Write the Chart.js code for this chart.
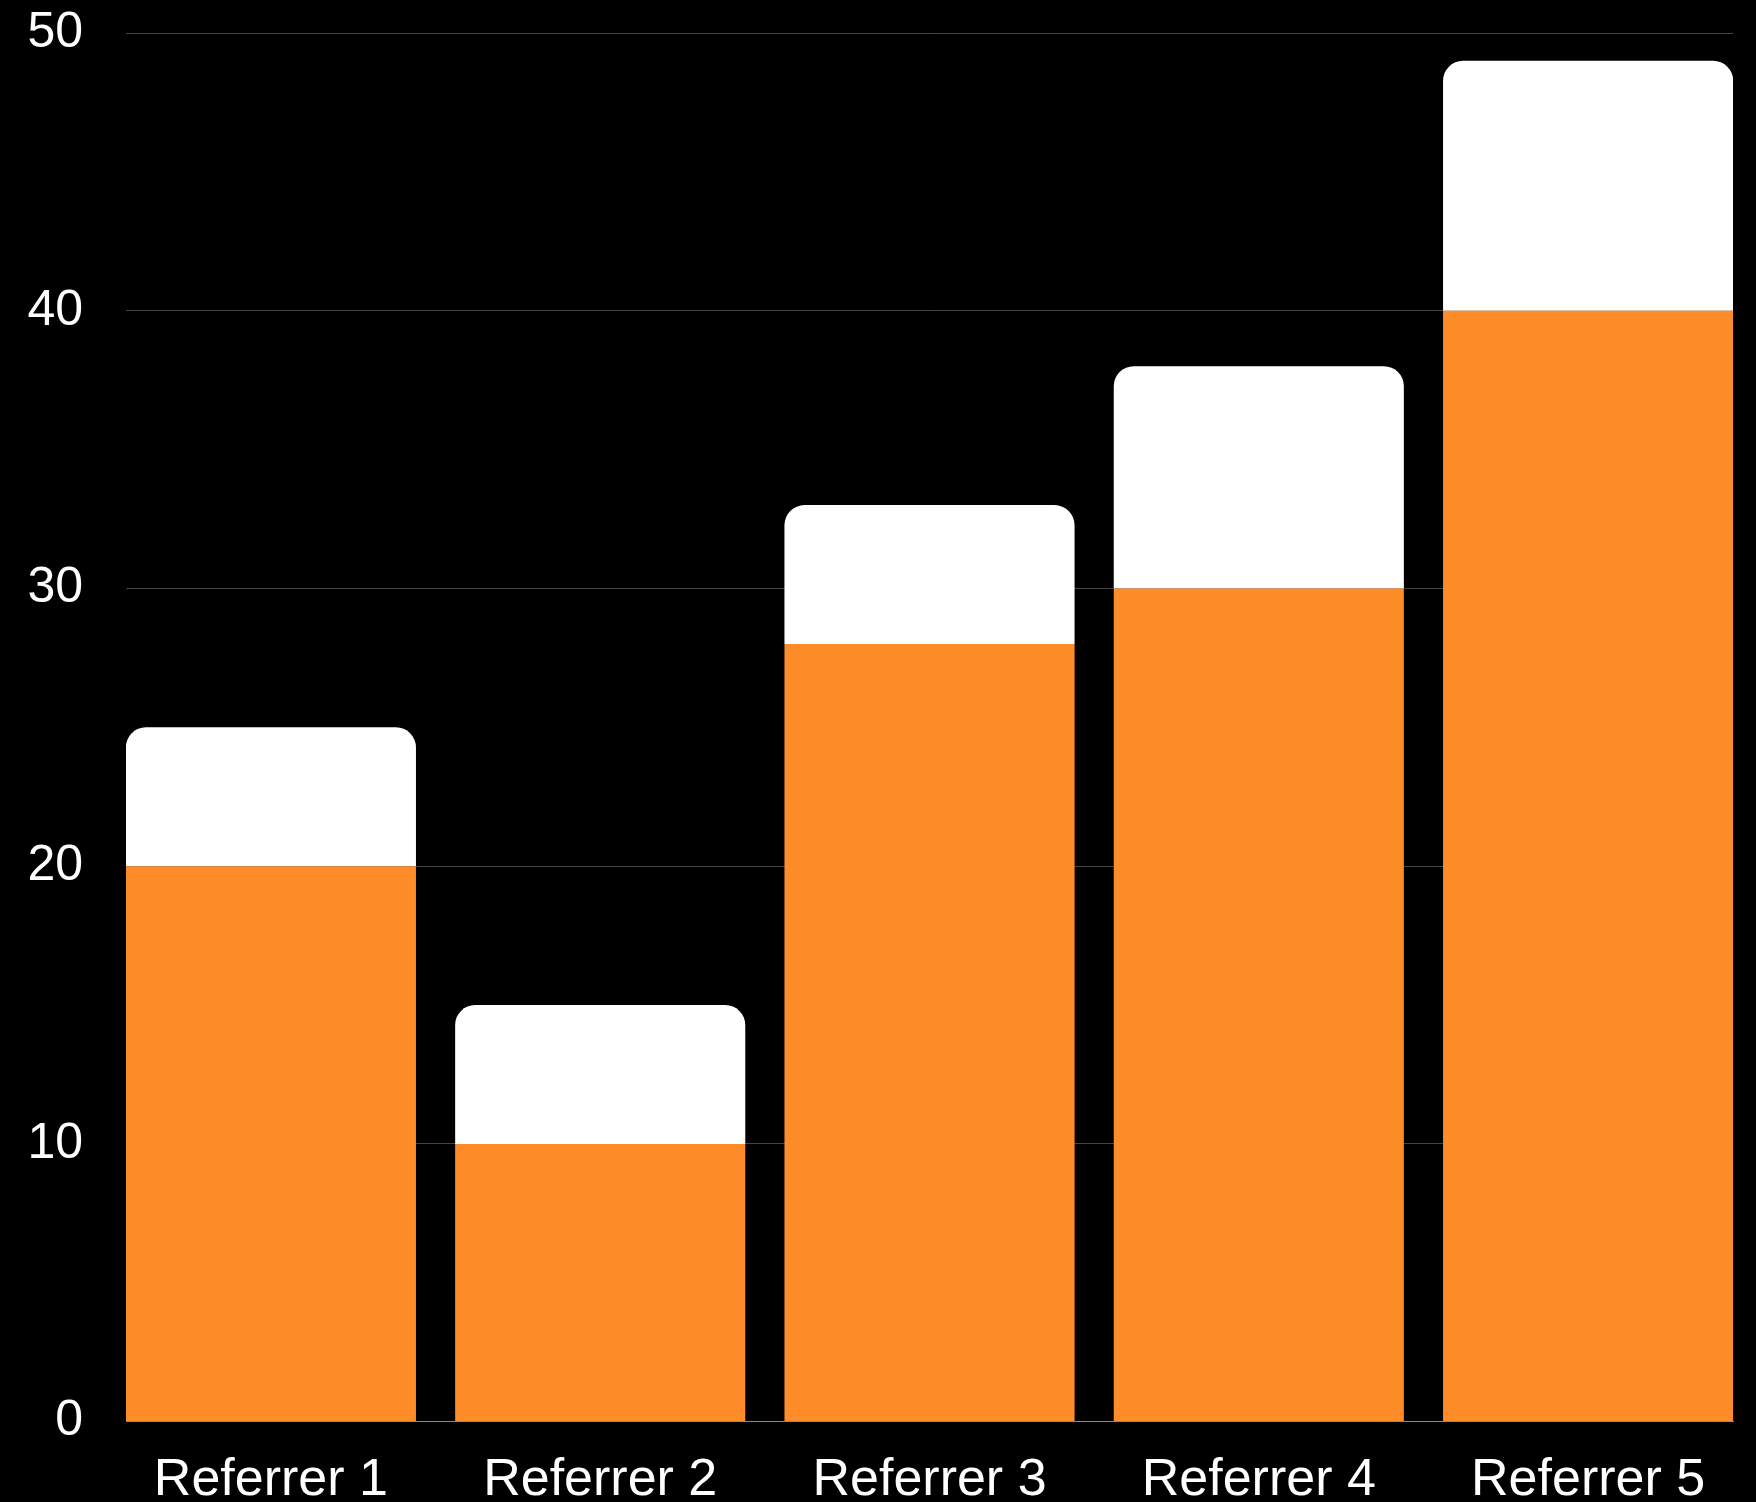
<!DOCTYPE html>
<html>
<head>
<meta charset="utf-8">
<style>
html,body{margin:0;padding:0;background:#000;}
#wrap{width:1756px;height:1502px;}
</style>
<script src="https://cdn.jsdelivr.net/npm/chart.js@4/dist/chart.umd.min.js"></script>
</head>
<body>
<div id="wrap"><canvas id="c" width="1756" height="1502"></canvas></div>
<script>
const categories = ["Referrer 1", "Referrer 2", "Referrer 3", "Referrer 4", "Referrer 5"];
const baseValues = [20, 10, 28, 30, 40];
const topValues = [5, 5, 5, 8, 9];
const yTicks = [0, 10, 20, 30, 40, 50];

const toPoints = arr => arr.map((v, i) => ({x: i, y: v}));

new Chart(document.getElementById('c'), {
  type: 'bar',
  data: {
    datasets: [
      {
        label: 'base',
        data: toPoints(baseValues),
        backgroundColor: '#FE8C29',
        borderWidth: 0,
        borderRadius: 0
      },
      {
        label: 'top',
        data: toPoints(topValues),
        backgroundColor: '#FFFFFF',
        borderWidth: 0,
        borderSkipped: false,
        borderRadius: {topLeft: 20, topRight: 20, bottomLeft: 0, bottomRight: 0}
      }
    ]
  },
  options: {
    responsive: false,
    animation: false,
    devicePixelRatio: 1,
    categoryPercentage: 1,
    barPercentage: 0.881,
    layout: {padding: {left: 24.4, right: 23, top: 0, bottom: -30}},
    plugins: {legend: {display: false}, tooltip: {enabled: false}},
    scales: {
      x: {
        type: 'linear',
        stacked: true,
        offset: false,
        grace: 0,
        min: -0.44,
        max: 4.44,
        grid: {display: false},
        border: {display: true, color: '#8a8a8a', width: 1},
        ticks: {
          stepSize: 1,
          includeBounds: false,
          autoSkip: false,
          maxRotation: 0,
          color: '#FFFFFF',
          padding: 20,
          font: {family: '"Liberation Sans", Arial, sans-serif', size: 52},
          callback: v => categories[v] !== undefined && Number.isInteger(v) ? categories[v] : ''
        }
      },
      y: {
        stacked: true,
        min: yTicks[0],
        max: yTicks[yTicks.length - 1],
        grid: {color: '#444444', lineWidth: 1, drawTicks: true, tickLength: 40, tickColor: 'rgba(0,0,0,0)'},
        border: {display: false},
        afterBuildTicks: s => { s.ticks = yTicks.map(v => ({value: v})); },
        ticks: {
          color: '#FFFFFF',
          padding: 3,
          font: {family: '"Liberation Sans", Arial, sans-serif', size: 50}
        }
      }
    }
  }
});
</script>
</body>
</html>
